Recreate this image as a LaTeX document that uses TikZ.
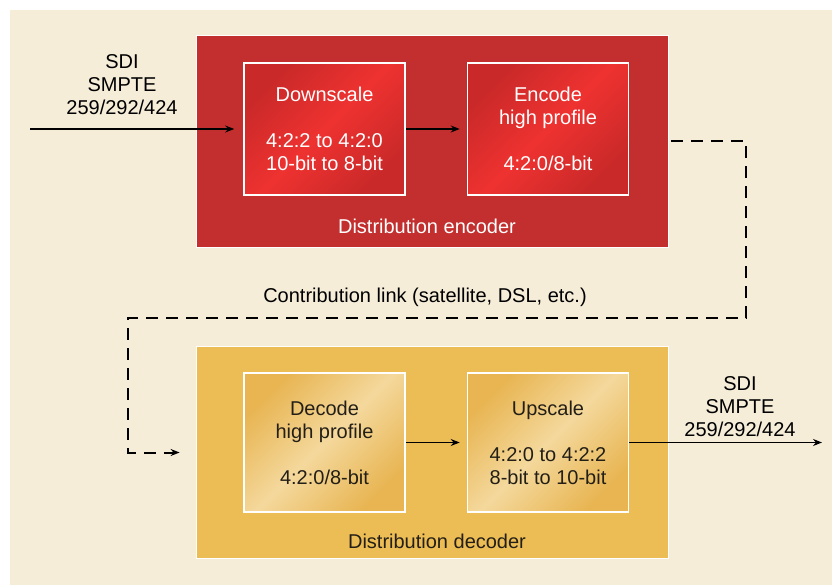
\documentclass[tikz,border=0pt]{standalone}
\usepackage{fontspec}
\setmainfont{Liberation Sans}
\usepackage{xcolor}
\usetikzlibrary{arrows.meta,positioning,calc}

\definecolor{bgcream}{HTML}{F6EDD9}
\definecolor{encouter}{HTML}{C22F2E}
\definecolor{encdark}{HTML}{C92929}
\definecolor{enclight}{HTML}{EE3230}
\definecolor{decouter}{HTML}{EDBD55}
\definecolor{decdark}{HTML}{E8B552}
\definecolor{declight}{HTML}{F4D89C}
\definecolor{dectext}{HTML}{231F17}

\begin{document}
\begin{tikzpicture}[x=1pt,y=-1pt,>={Stealth[length=9pt,width=7pt]},
  txt/.style={font=\fontsize{20}{23}\selectfont,align=center},
  outerbox/.style={draw=white,line width=0.8pt,minimum width=472pt,minimum height=212pt,inner sep=0pt},
  encblock/.style={txt,text=white,draw=white,line width=1.6pt,top color=encdark,bottom color=encdark,
    middle color=enclight,shading angle=45,minimum width=161pt,minimum height=132pt,inner sep=0pt},
  decblock/.style={txt,text=dectext,draw=white,line width=1.6pt,top color=decdark,bottom color=decdark,
    middle color=declight,shading angle=45,minimum width=161pt,minimum height=139pt,inner sep=0pt},
  sig/.style={->,line width=1.4pt},
  link/.style={->,line width=2pt,dash pattern=on 12pt off 8pt}]
  \useasboundingbox (0,0) rectangle (832,585);
  \fill[bgcream] (10,10) rectangle (832,585);
  % encoder side
  \node[outerbox,fill=encouter] (encoder) at (432,141) {};
  \node[encblock] (down) at (324.5,129) {Downscale\\[23pt]4:2:2 to 4:2:0\\10-bit to 8-bit};
  \node[encblock] (enc) at (548,129) {Encode\\high profile\\[23pt]4:2:0/8-bit};
  \node[txt,text=white] (enclbl) at (427,226) {Distribution encoder};
  % decoder side
  \node[outerbox,fill=decouter] (decoder) at (432,452.5) {};
  \node[decblock] (dec) at (324.5,442.5) {Decode\\high profile\\[23pt]4:2:0/8-bit};
  \node[decblock] (up) at (548,442.5) {Upscale\\[23pt]4:2:0 to 4:2:2\\8-bit to 10-bit};
  \node[txt,text=dectext] (declbl) at (437,541) {Distribution decoder};
  % signal in / out
  \coordinate (sdiin) at (30,129);
  \coordinate (sdiout) at (822,442.5);
  \node[txt] (inlbl) at (122,85) {SDI\\SMPTE\\259/292/424};
  \node[txt] (outlbl) at (740,407) {SDI\\SMPTE\\259/292/424};
  \draw[sig,shorten >=9pt] (sdiin) -- (down.west);
  \draw[sig,shorten >=7pt] (down) -- (enc);
  \draw[sig,shorten >=7pt] (dec) -- (up);
  \draw[sig] (up.east) -- (sdiout);
  % contribution link
  \coordinate (linkr) at (746,318);
  \coordinate (linkl) at (128,318);
  \node[txt] (linklbl) at (425,297) {Contribution link (satellite, DSL, etc.)};
  \draw[link,shorten <=3pt,shorten >=16pt] (encoder.east) -| (linkr) -- (linkl) |- (decoder.west);
\end{tikzpicture}
\end{document}
